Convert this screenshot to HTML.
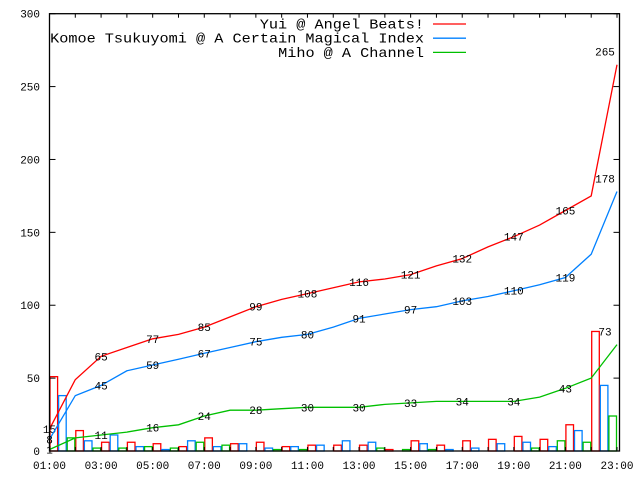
<!DOCTYPE html>
<html><head><meta charset="utf-8">
<style>
html,body{margin:0;padding:0;background:#fff;width:640px;height:480px;overflow:hidden}
svg{display:block}
text{font-family:"Liberation Mono","DejaVu Sans Mono",monospace;fill:#000}
</style></head>
<body>
<svg id="chart" width="640" height="480" viewBox="0 0 640 480" xmlns="http://www.w3.org/2000/svg">
<g id="bars"></g>
<g id="lines"></g>
<g id="axes"></g>
<g id="legend"></g>
</svg>
<script>
const hourLabels = ["01:00","03:00","05:00","07:00","09:00","11:00","13:00","15:00","17:00","19:00","21:00","23:00"];
const yTicks = [0,50,100,150,200,250,300];
const seriesNames = ["Yui @ Angel Beats!","Komoe Tsukuyomi @ A Certain Magical Index","Miho @ A Channel"];
const seriesColors = ["#ff0000","#0080ff","#00c000"];
// hourly counts (hours 01..22)
const redHourly   = [51,14,6,6,5,3,9,5,6,3,4,4,4,1,7,4,7,8,10,8,18,82];
const blueHourly  = [38,7,11,3,1,7,3,5,2,3,4,7,6,0,5,1,2,5,6,3,14,45];
const greenHourly = [9,2,2,3,2,6,4,0,1,1,0,0,2,1,1,0,0,0,2,7,6,24];
// cumulative values at each hour 01:00..23:00
const redCum   = [15,49,65,71,77,80,85,92,99,104,108,112,116,118,121,127,132,140,147,155,165,175,265];
const blueCum  = [8,38,45,55,59,63,67,71,75,78,80,85,91,94,97,99,103,106,110,114,119,135,178];
const greenCum = [1,9,11,13,16,18,24,28,28,29,30,30,30,32,33,34,34,34,34,37,43,50,73];

const X0=49.5, X1=619.5, Y0=451, YT=13.7, HOURW=(617-49.5)/22;
const NS="http://www.w3.org/2000/svg";
const xh = h => X0 + h*HOURW;            // h = hours since 01:00
const y = v => Y0 - v*(Y0-YT)/300;
function mk(tag, attrs, parent){const e=document.createElementNS(NS,tag);for(const k in attrs)e.setAttribute(k,attrs[k]);parent.appendChild(e);return e;}

const bars=document.getElementById('bars');
const hourly=[redHourly,blueHourly,greenHourly];
hourly.forEach((arr,s)=>{
  arr.forEach((v,i)=>{
    if(v<=0) return;
    const bx = xh(i) + s*HOURW/3 + 0.5;
    const r = mk('rect',{x:bx,y:y(v),width:HOURW/3-1,height:Y0-y(v),fill:'none',stroke:seriesColors[s],'stroke-width':1.3},bars);
    
    
  });
});

const lines=document.getElementById('lines');
const cums=[redCum,blueCum,greenCum];
cums.forEach((arr,s)=>{
  const pts=arr.map((v,i)=>xh(i).toFixed(1)+','+y(v).toFixed(1)).join(' ');
  const p=mk('polyline',{points:pts,fill:'none',stroke:seriesColors[s],'stroke-width':1.3},lines);
  
  
  arr.forEach((v,i)=>{
    if(i%2!==0) return;
    const t=mk('text',{x:i===22?xh(i)-12:xh(i),y:y(v)+(i===22?-9:4),'text-anchor':'middle','font-size':11},lines);
    t.textContent=v;
    
    
  });
});

const axes=document.getElementById('axes');
mk('rect',{x:X0,y:YT,width:X1-X0,height:Y0-YT,fill:'none',stroke:'#000','stroke-width':1.3},axes);
for(let h=0;h<=22;h++){
  mk('line',{x1:xh(h),y1:Y0,x2:xh(h),y2:Y0-4,stroke:'#000'},axes);
  mk('line',{x1:xh(h),y1:YT,x2:xh(h),y2:YT+4,stroke:'#000'},axes);
}
hourLabels.forEach((l,i)=>{
  const t=mk('text',{x:xh(i*2),y:469,'text-anchor':'middle','font-size':11},axes);
  t.textContent=l;
  
  
});
yTicks.forEach(v=>{
  mk('line',{x1:X0,y1:y(v),x2:X0+6,y2:y(v),stroke:'#000'},axes);
  mk('line',{x1:X1,y1:y(v),x2:X1-6,y2:y(v),stroke:'#000'},axes);
  const t=mk('text',{x:40,y:y(v)+4,'text-anchor':'end','font-size':11},axes);
  t.textContent=v;
  
  
});

const legend=document.getElementById('legend');
seriesNames.forEach((n,i)=>{
  const ly=24+i*14.2;
  const t=mk('text',{x:424,y:ly+4.5,'text-anchor':'end','font-size':14,textLength:(n.length*9.12).toFixed(1),lengthAdjust:'spacingAndGlyphs'},legend);
  t.textContent=n;
  
  
  const l=mk('line',{x1:433,y1:ly,x2:466,y2:ly,stroke:seriesColors[i],'stroke-width':1.3},legend);
  
  
});
</script>
</body></html>
